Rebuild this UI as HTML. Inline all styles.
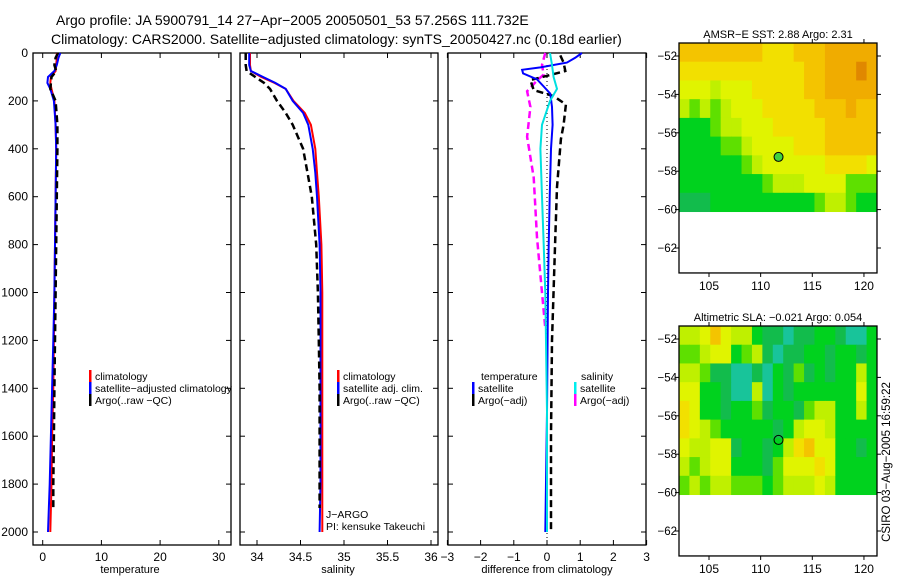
<!DOCTYPE html>
<html><head><meta charset="utf-8"><style>
body{margin:0;background:#fff;}
svg{display:block;font-family:"Liberation Sans",sans-serif;}
</style></head><body>
<svg id="fig" width="900" height="580" viewBox="0 0 900 580">
<rect width="900" height="580" fill="#fff"/>
<text x="56" y="25" font-size="14">Argo profile: JA 5900791_14 27−Apr−2005 20050501_53 57.256S 111.732E</text>
<text x="51" y="44" font-size="14">Climatology: CARS2000. Satellite−adjusted climatology: synTS_20050427.nc (0.18d earlier)</text>
<g id="plots"></g>
</svg>
<script>
// ---- profile data ----
const climDepth=[0,20,50,75,100,125,150,200,300,400,600,800,1000,1200,1400,1600,1800,2000];
const climT=[2.4,2.4,2.3,2.2,1.4,1.3,1.5,2.0,2.2,2.3,2.2,2.1,2.0,1.9,1.8,1.6,1.5,1.3];
const satT=[3.0,2.7,2.4,2.0,0.9,0.8,1.3,1.9,2.2,2.3,2.2,2.1,2.0,1.8,1.6,1.4,1.2,0.9];
const argoTDepth=[0,20,50,75,100,125,150,200,300,400,600,800,1000,1200,1400,1600,1800,1900];
const argoT=[2.6,2.2,2.0,2.3,1.5,1.4,1.3,2.2,2.5,2.5,2.4,2.3,2.2,2.1,2.0,1.9,1.8,1.8];
const salDepth=[0,50,75,100,125,150,200,250,300,400,500,600,800,1000,1200,1400,1600,1800,2000];
const climS=[33.92,33.92,33.93,34.05,34.2,34.33,34.42,34.55,34.62,34.67,34.69,34.71,34.74,34.75,34.75,34.75,34.75,34.75,34.75];
const satS=[33.91,33.91,33.93,34.07,34.21,34.33,34.41,34.53,34.59,34.64,34.67,34.69,34.72,34.73,34.73,34.73,34.73,34.73,34.72];
const argoSDepth=[0,50,75,100,125,150,200,250,300,400,500,600,800,1000,1200,1400,1600,1800,1900];
const argoS=[33.87,33.87,33.88,33.98,34.08,34.15,34.23,34.33,34.41,34.53,34.58,34.63,34.68,34.70,34.71,34.72,34.72,34.72,34.72];
const dTsatDepth=[0,20,40,60,70,85,110,140,170,225,300,400,600,800,1000,1500,2000];
const dTsat=[1.05,0.85,0.6,-0.2,-0.75,-0.72,-0.3,-0.1,0.1,0.15,0.17,0.12,0.08,0.05,0.03,0.0,-0.05];
const dSsatDepth=[0,50,100,150,200,300,400,600,800,1000,1500,2000];
const dSsat=[0.09,0.15,0.2,0.3,0.09,-0.15,-0.2,-0.15,-0.1,-0.05,0.0,0.0];
const dSargoDepth=[0,50,90,115,160,225,350,520,770,1000,1150];
const dSargo=[-0.05,-0.15,-0.1,-0.3,-0.6,-0.5,-0.6,-0.4,-0.3,-0.15,-0.05];
const dTargoDepth=[10,40,75,95,113,155,180,215,300,360,560,770,1200,1600,2000];
const dTargo=[0.4,0.5,0.55,0.0,-0.5,-0.4,0.2,0.57,0.5,0.42,0.3,0.25,0.15,0.12,0.12];
const depthTicks=[0,200,400,600,800,1000,1200,1400,1600,1800,2000];
const tTicks=[0,10,20,30];
const sTicks=[34,34.5,35,35.5,36];
const sTickLabels=["34","34.5","35","35.5","36"];
const dTicks=[-3,-2,-1,0,1,2,3];
// ---- map data (1-degree cells, colour class 0-9) ----
const sstRows=["7777777766677788888","6666666666667788898","5554555666667788888","4343455566666777877","2223445556666677777","2222334555566677777","2222223455555566665","2222222234445555333","1112222222222344322"];
const slaRows=["4457544211011221002","3345523410112212212","4431100102131212242","5522100402122222252","6522122312213442242","6543222221245542222","5445512212467552212","4345522213555652222","3434433323444542222"];
const palette=["#18c49a","#12bc4c","#00d21e","#5ee000","#bff000","#e0f400","#f2e000","#f4c400","#f0ac00","#e08800"];
const latTicks=[-52,-54,-56,-58,-60,-62];
const lonTicks=[105,110,115,120];
const argoLon=111.732, argoLat=-57.256;

const NS="http://www.w3.org/2000/svg";
const root=document.getElementById('plots');
function mk(tag,attrs,parent){const e=document.createElementNS(NS,tag);for(const k in attrs)e.setAttribute(k,attrs[k]);(parent||root).appendChild(e);return e;}
const yD=z=>53+z*0.2395;
const xT=t=>42.7+t*5.87;
const xS=s=>257+(s-34)*87;
const xDf=d=>547+d*33.2;

function panel(x0,name){
  const g=mk('g',{});
  
  
  mk('rect',{x:x0,y:53,width:198,height:492,fill:'none',stroke:'#000','stroke-width':1.3},g);
  depthTicks.forEach(d=>{const y=yD(d);mk('line',{x1:x0,x2:x0+5,y1:y,y2:y,stroke:'#000'},g);mk('line',{x1:x0+193,x2:x0+198,y1:y,y2:y,stroke:'#000'},g);});
  return g;
}
function xticks(g,vals,fx,labels){
  vals.forEach((v,i)=>{const x=fx(v);mk('line',{x1:x,x2:x,y1:53,y2:58,stroke:'#000'},g);mk('line',{x1:x,x2:x,y1:540,y2:545,stroke:'#000'},g);
    const t=mk('text',{x:x,y:561,'font-size':12,'text-anchor':'middle'},g);t.textContent=labels?labels[i]:String(v).replace('-','−');});
}
function line(g,depths,vals,fx,color,dash,w,name){
  const p=mk('polyline',{points:depths.map((d,i)=>fx(vals[i]).toFixed(1)+','+yD(d).toFixed(1)).join(' '),fill:'none',stroke:color,'stroke-width':w||2,'stroke-dasharray':dash||'none'},g);
  
  
}
function legend(g,x,y,items){
  items.forEach((it,i)=>{const yy=y+i*12;mk('rect',{x:x,y:yy-10,width:2.5,height:12,fill:it[1]},g);
    const t=mk('text',{x:x+6,y:yy,'font-size':10.5},g);t.textContent=it[0];
    
    });
}
function label(g,x,y,txt,size,anchor,name){const t=mk('text',{x:x,y:y,'font-size':size,'text-anchor':anchor||'start'},g);t.textContent=txt;
  
  return t;}

// Panel 1 temperature
const p1=panel(33,'temperature-panel');
depthTicks.forEach(d=>label(p1,28,yD(d)+4,String(d),12,'end','y-tick-label'));
xticks(p1,tTicks,xT);
label(p1,130,573,'temperature',11,'middle','x-axis-title-temperature');
line(p1,climDepth,climT,xT,'#ff0000',null,2,'temp-climatology');
line(p1,climDepth,satT,xT,'#0000ff',null,2,'temp-satellite');
line(p1,argoTDepth,argoT,xT,'#000',"7,4",2.5,'temp-argo');
legend(p1,89,380,[['climatology','#f00'],['satellite−adjusted climatology','#00f'],['Argo(..raw −QC)','#000']]);

// Panel 2 salinity
const p2=panel(240,'salinity-panel');
xticks(p2,sTicks,xS,sTickLabels);
label(p2,338,573,'salinity',11,'middle','x-axis-title-salinity');
line(p2,salDepth,climS,xS,'#ff0000',null,2,'sal-climatology');
line(p2,salDepth,satS,xS,'#0000ff',null,2,'sal-satellite');
line(p2,argoSDepth,argoS,xS,'#000',"7,4",2.5,'sal-argo');
legend(p2,337,380,[['climatology','#f00'],['satellite adj. clim.','#00f'],['Argo(..raw −QC)','#000']]);
label(p2,326,518,'J−ARGO',10.5,'start','float-agency');
label(p2,326,530,'PI: kensuke Takeuchi',10.5,'start','float-pi');

// Panel 3 difference
const p3=panel(448,'difference-panel');
xticks(p3,dTicks,xDf);
label(p3,547,573,'difference from climatology',11,'middle','x-axis-title-difference');
mk('line',{x1:xDf(0),x2:xDf(0),y1:yD(50),y2:545,stroke:'#000','stroke-dasharray':'1,3'},p3);
line(p3,dSargoDepth,dSargo,xDf,'#ff00ff',"7,4",2.5,'dsal-argo');
line(p3,dTargoDepth,dTargo,xDf,'#000',"7,4",2.5,'dtemp-argo');
line(p3,dTsatDepth,dTsat,xDf,'#0000ff',null,2,'dtemp-satellite');
line(p3,dSsatDepth,dSsat,xDf,'#00e0e0',null,2,'dsal-satellite');
label(p3,481,380,'temperature',10.5,'start','legend-title-temperature');
legend(p3,472,392,[['satellite','#00f'],['Argo(−adj)','#000']]);
label(p3,581,380,'salinity',10.5,'start','legend-title-salinity');
legend(p3,574,392,[['satellite','#0ee'],['Argo(−adj)','#f0f']]);

// Maps
function map(top,rows,title,name,filled){
  const g=mk('g',{});
  
  
  const mx=lon=>709+(lon-105)*10.33;
  const my=lat=>top+13+(-52-lat)*19.2;
  const x0=679,x1=877,yTop=top,yData=my(-60.1);
  const cw=(x1-x0)/rows[0].length, ch=(yData-yTop)/rows.length;
  rows.forEach((r,i)=>{for(let j=0;j<r.length;j++){mk('rect',{x:(x0+j*cw).toFixed(2),y:(yTop+i*ch).toFixed(2),width:(cw+0.5).toFixed(2),height:(ch+0.5).toFixed(2),fill:palette[+r[j]]},g);}});
  mk('rect',{x:x0,y:top,width:x1-x0,height:my(-63.3)-top,fill:'none',stroke:'#000','stroke-width':1.3},g);
  latTicks.forEach(l=>{const y=my(l);mk('line',{x1:x0-4,x2:x0,y1:y,y2:y,stroke:'#000'},g);mk('line',{x1:x1,x2:x1+4,y1:y,y2:y,stroke:'#000'},g);
    label(g,677,y+4,String(l).replace('-','−'),11.5,'end','lat-tick-label');});
  const yb=my(-63.3);
  lonTicks.forEach(l=>{const x=mx(l);mk('line',{x1:x,x2:x,y1:top-4,y2:top,stroke:'#000'},g);mk('line',{x1:x,x2:x,y1:yb,y2:yb+4,stroke:'#000'},g);
    label(g,x,yb+17,String(l),12,'middle','lon-tick-label');});
  label(g,778,top-5,title,11,'middle','map-title');
  const c=mk('circle',{cx:mx(argoLon),cy:my(argoLat),r:4.5,fill:filled||'none',stroke:'#000','stroke-width':1},g);
  
  
}
map(43,sstRows,'AMSR−E SST: 2.88 Argo: 2.31','sst-map','#40d040');
map(326,slaRows,'Altimetric SLA: −0.021 Argo: 0.054','sla-map',null);
const cs=label(root,0,0,'CSIRO 03−Aug−2005 16:59:22',11.5,'middle','timestamp-credit');
cs.setAttribute('transform','translate(890,462) rotate(-90)');
</script>
</body></html>
